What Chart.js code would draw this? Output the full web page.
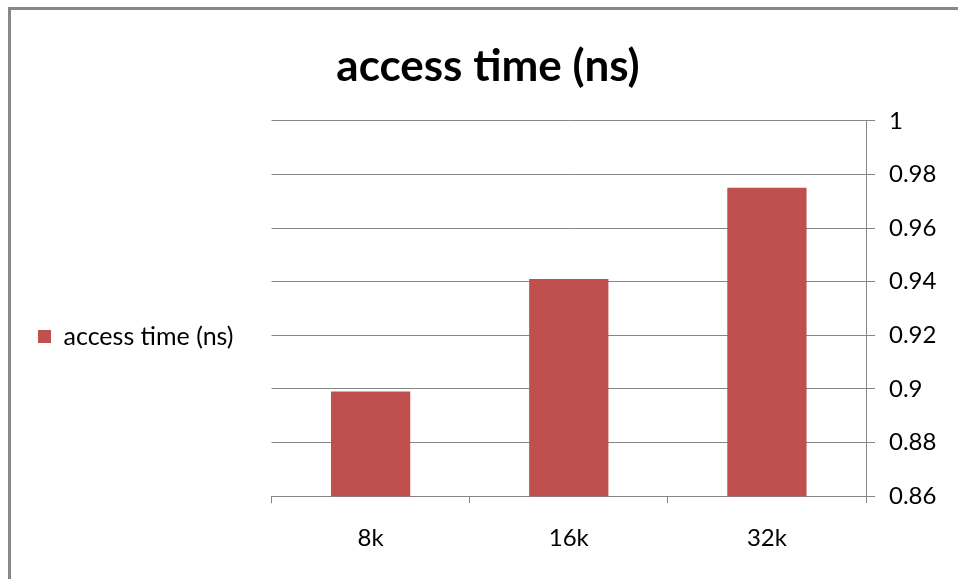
<!DOCTYPE html>
<html>
<head>
<meta charset="utf-8">
<script src="https://cdn.jsdelivr.net/npm/chart.js@4.4.0/dist/chart.umd.min.js"></script>
<style>
  html, body { margin: 0; padding: 0; background: #fff; }
  #wrap { position: relative; width: 958px; height: 579px; overflow: hidden; }
  #frame {
    position: absolute; left: 8px; top: 7px; right: -5px; bottom: -5px;
    border-left: 3px solid #888; border-top: 3px solid #888;
  }
  #chart { position: absolute; left: 0; top: 0; }
</style>
</head>
<body>
<div id="wrap">
  <div id="frame"></div>
  <canvas id="chart" width="958" height="579"></canvas>
</div>
<script>
// access time chart
const CATEGORIES = ['8k', '16k', '32k'];
const ACCESS_TIME = [0.899, 0.941, 0.975];
const Y_MIN = 0.86;
const Y_MAX = 1;
const Y_STEP = 0.02;

const BAR_COLOR = '#C0504D';
const LINE_COLOR = '#868686';
const FONT = "Lato, 'Open Sans', sans-serif";

Chart.defaults.color = '#000';
Chart.defaults.font.family = FONT;

new Chart(document.getElementById('chart'), {
  type: 'bar',
  data: {
    labels: CATEGORIES,
    datasets: [{
      label: 'access time (ns)',
      data: ACCESS_TIME,
      backgroundColor: BAR_COLOR,
      borderWidth: 0,
      barPercentage: 0.4,
      categoryPercentage: 1,
    }],
  },
  options: {
    responsive: false,
    animation: false,
    layout: { padding: { left: 30, right: 12, top: 0, bottom: 5 } },
    plugins: {
      title: {
        display: true,
        text: 'access time (ns)',
        font: { size: 44, weight: 'bold' },
        color: '#000',
        padding: { top: 40, bottom: 28 },
      },
      legend: {
        position: 'left',
        fullSize: false,
        maxWidth: 300,
        // blank title only pushes the entry down a little
        title: { display: true, text: '', font: { size: 10, lineHeight: 1 }, padding: { top: 46, bottom: 0 } },
        labels: {
          boxWidth: 13,
          boxHeight: 13,
          padding: 8,
          color: '#000',
          font: { size: 25 },
        },
      },
      tooltip: { enabled: false },
    },
    scales: {
      x: {
        grid: { offset: true, drawOnChartArea: false, drawTicks: true, tickLength: 7, color: LINE_COLOR },
        border: { display: true, color: LINE_COLOR },
        ticks: { font: { size: 24 }, padding: 21, color: '#000' },
      },
      y: {
        position: 'right',
        min: Y_MIN,
        max: Y_MAX,
        ticks: {
          stepSize: Y_STEP,
          font: { size: 24 },
          padding: 14,
          color: '#000',
          callback: (v) => String(parseFloat(v.toFixed(2))),
        },
        grid: { color: LINE_COLOR, tickLength: 9 },
        border: { display: true, color: LINE_COLOR },
        afterFit: (s) => { s.width = 80; },
      },
      // empty left axis, only keeps the gap between legend and plot
      gap: {
        type: 'linear',
        position: 'left',
        grid: { display: false },
        border: { display: false },
        ticks: { display: false },
        afterFit: (s) => { s.width = 28; },
      },
    },
  },
});
</script>
</body>
</html>
